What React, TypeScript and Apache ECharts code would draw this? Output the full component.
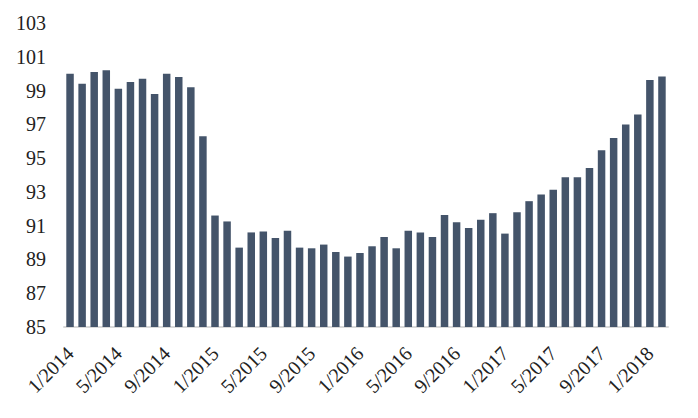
import React, { useEffect, useRef } from "react";
import * as echarts from "echarts";

const years = [2014, 2015, 2016, 2017, 2018];
const categories: string[] = [];
years.forEach((y) => {
  for (let m = 1; m <= 12; m++) {
    if (y === 2018 && m > 2) break;
    categories.push(`${m}/${y}`);
  }
});

const values = [
  100.0, 99.4, 100.1, 100.2, 99.1, 99.5, 99.7, 98.8, 100.0, 99.8, 99.2, 96.3,
  91.6, 91.25, 89.7, 90.6, 90.65, 90.27, 90.7, 89.7, 89.66, 89.88, 89.44, 89.17,
  89.38, 89.78, 90.33, 89.66, 90.7, 90.6, 90.33, 91.63, 91.2, 90.86, 91.35, 91.74,
  90.53, 91.8, 92.45, 92.85, 93.12, 93.87, 93.87, 94.42, 95.46, 96.19, 96.99, 97.58,
  99.63, 99.83,
];

const yMin = 85;
const yMax = 103;
const yStep = 2;

export default function App() {
  const ref = useRef<HTMLDivElement>(null);
  useEffect(() => {
    if (!ref.current) return;
    const chart = echarts.init(ref.current, undefined, { renderer: "svg" });
    const font = "'Liberation Serif', 'Times New Roman', serif";
    chart.setOption({
      animation: false,
      grid: { left: 56, right: 22, top: 15, bottom: 83, containLabel: false },
      xAxis: {
        type: "category",
        data: categories,
        axisLine: { lineStyle: { color: "#d9d9d9", width: 2 } },
        axisTick: { show: false },
        axisLabel: {
          interval: 3,
          rotate: 45,
          fontFamily: font,
          fontSize: 20,
          color: "#222",
          margin: 23,
        },
      },
      yAxis: {
        type: "value",
        min: yMin,
        max: yMax,
        interval: yStep,
        splitLine: { show: false },
        axisLine: { show: false },
        axisTick: { show: false },
        axisLabel: { fontFamily: font, fontSize: 20, color: "#222", margin: 18 },
      },
      series: [
        {
          type: "bar",
          data: values,
          barWidth: "62%",
          itemStyle: { color: "#44546A" },
        },
      ],
    });
    return () => chart.dispose();
  }, []);
  return <div ref={ref} style={{ width: 682, height: 402 }} />;
}
